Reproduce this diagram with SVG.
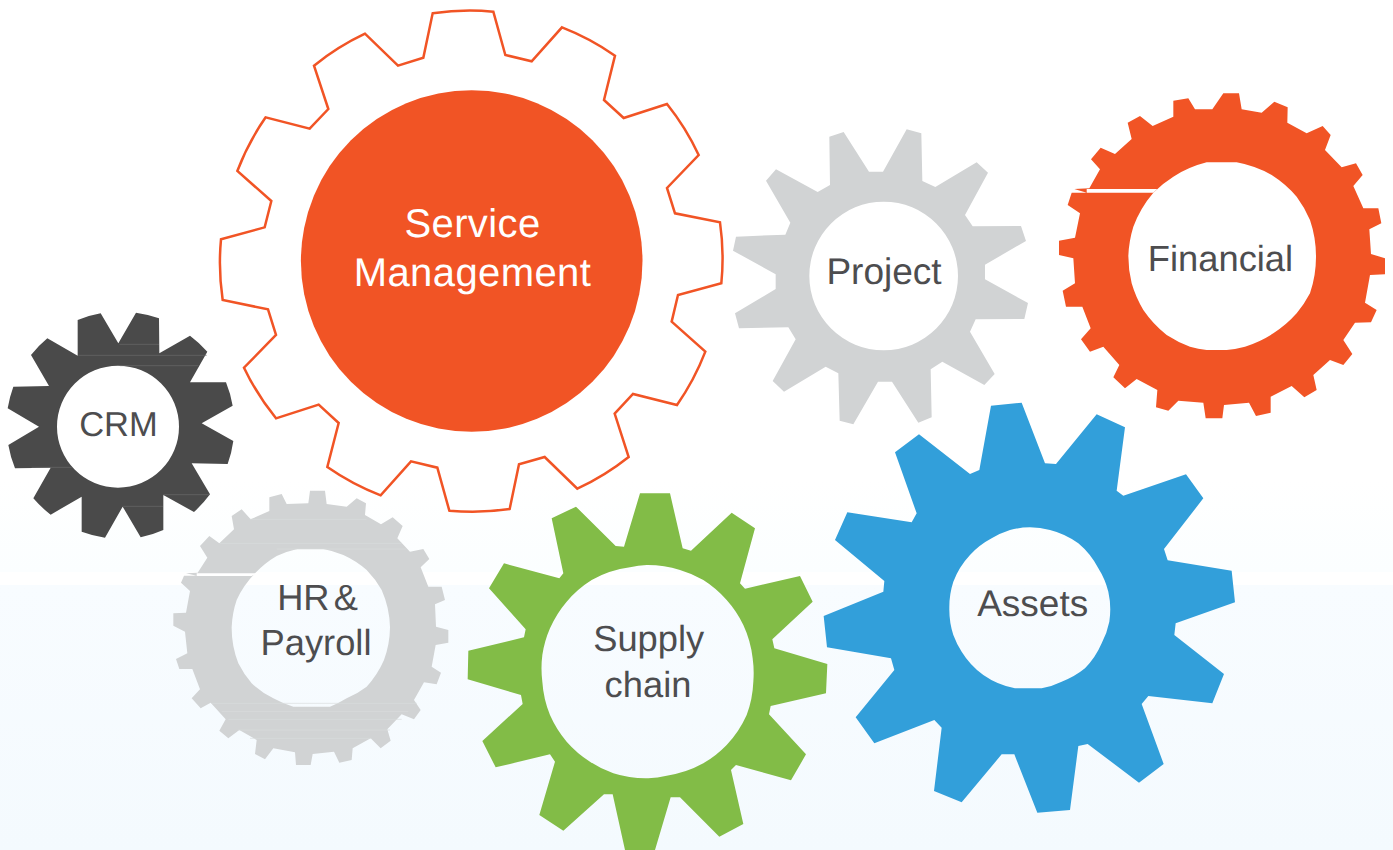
<svg xmlns="http://www.w3.org/2000/svg" width="1393" height="850" viewBox="0 0 1393 850">
<style>
text{text-rendering:geometricPrecision}
.t{font-family:"Liberation Sans",Arial,sans-serif;text-anchor:middle;fill:#4d4d4f;font-size:36.3px}
.w{fill:#fff;font-size:40px;letter-spacing:.4px}
.o{fill:#f15425}.g{fill:#d1d3d4}.d{fill:#4a4a4a}.v{fill:#82bc47}.b{fill:#329fda}
.slit{fill:#fff}
.crm{stroke:#6a6a6a;stroke-width:2;fill:none}
.hr{stroke:#dadcdd;stroke-width:2;fill:none}
</style>
<defs>
<linearGradient id="top" x1="0" y1="0" x2="0" y2="1"><stop offset="0" stop-color="#fff"/><stop offset="1" stop-color="#fbfeff"/></linearGradient>
<linearGradient id="bot" x1="0" y1="0" x2="0" y2="1"><stop offset="0" stop-color="#f8fcff"/><stop offset="1" stop-color="#f4fafe"/></linearGradient>
</defs>
<rect width="1393" height="850" fill="#fff"/>
<rect y="480" width="1393" height="92" fill="url(#top)"/>
<rect y="585" width="1393" height="265" fill="url(#bot)"/>

<g id="service-management">
<path transform="translate(210 0) scale(.33333)" fill="#fff" stroke="#f15425" stroke-width="7.5" stroke-linejoin="miter" d="M668,40A755,755 0 0 1 850,35L886,165 965,184 1056,82A755,755 0 0 1 1215,167L1182,300 1241,354 1371,312A755,755 0 0 1 1466,465L1371,564 1395,640 1530,667A755,755 0 0 1 1534,850L1404,885 1385,965 1486,1055A755,755 0 0 1 1401,1215L1269,1182 1214,1241 1256,1371A755,755 0 0 1 1102,1466L1004,1371 927,1393 899,1527A755,755 0 0 1 718,1532L682,1403 603,1384 512,1486A755,755 0 0 1 352,1401L386,1269 326,1214 198,1255A755,755 0 0 1 102,1103L198,1005 174,928 38,900A755,755 0 0 1 33,718L164,682 184,603 82,513A755,755 0 0 1 167,352L299,386 355,327 312,197A755,755 0 0 1 465,101L564,197 640,173Z"/>
<circle class="o" cx="471.7" cy="261" r="170.8"/>
<text class="t w" x="472.5" y="236.5">Service</text>
<text class="t w" x="472.5" y="285.5">Management</text>
</g>

<g id="project">
<path class="g" fill-rule="evenodd" transform="translate(725 120) scale(.33333)" d="M313,50 356,36 432,155 474,155 545,28 589,40 592,183 631,201 755,127 789,158 720,285 743,319 888,318 903,363 780,434 780,478 909,549 898,597 752,598 735,635 809,762 778,795 652,725 617,748 620,892 580,908 501,785 459,785 385,913 344,902 340,760 302,740 177,815 143,783 212,658 190,622 42,625 30,580 152,507 152,463 24,392 33,350 181,344 196,308 123,182 153,148 278,216 315,195Z M253,468a223,223 0 1,0 446,0a223,223 0 1,0 -446,0Z"/>
<text class="t" x="884" y="283.8" style="font-size:37px">Project</text>
</g>

<g id="financial">
<path class="o" fill-rule="evenodd" transform="translate(1040 80) scale(.33333)" d="M550,40 597,40 605,88 665,98 703,65 743,82 742,128 800,160 848,138 872,165 855,210 905,262 948,250 968,285 940,318 970,385 1015,385 1024,430 988,448 993,522 1035,535 1035,583 990,585 975,668 1010,690 993,727 945,728 910,780 937,822 910,855 870,840 820,885 830,930 793,952 755,918 692,950 692,998 648,1008 627,968 552,975 547,1015 497,1015 490,968 415,962 385,992 348,982 352,930 290,897 255,925 220,892 238,855 190,800 150,815 123,778 152,745 127,680 78,680 68,632 105,610 100,535 57,525 57,482 105,473 120,400 83,375 95,338 140,338 103,327 148,325 180,268 153,238 182,203 225,222 275,177 263,128 300,108 338,138 400,110 400,62 445,55 465,88 517,88Z M500,247H590A340,340 0 0 1 695,285A340,340 0 0 1 770,350A340,340 0 0 1 810,420A340,340 0 0 1 828,528A340,340 0 0 1 810,640A340,340 0 0 1 770,700A340,340 0 0 1 700,760A340,340 0 0 1 615,800A340,340 0 0 1 560,810H500A340,340 0 0 1 450,800A340,340 0 0 1 380,765A340,340 0 0 1 310,690A340,340 0 0 1 275,610A340,340 0 0 1 265,528A340,340 0 0 1 280,440A340,340 0 0 1 340,338A340,340 0 0 1 400,290A340,340 0 0 1 500,247Z"/>
<polygon class="slit" transform="translate(1040 80) scale(.33333)" points="140,327 352,327 340,338 140,338"/>
<text class="t" x="1220.5" y="271">Financial</text>
</g>

<g id="crm">
<path class="d" fill-rule="evenodd" transform="translate(0 300) scale(.33333)" d="M233,60A340,340 0 0 1 302,40L355,130 408,38A340,340 0 0 1 477,55L478,160 570,107A340,340 0 0 1 622,155L570,247 678,247A340,340 0 0 1 698,317L605,370 700,423A340,340 0 0 1 683,492L575,490 630,583A340,340 0 0 1 582,636L490,585 490,690A340,340 0 0 1 422,712L368,620 315,713A340,340 0 0 1 245,695L245,590 152,644A340,340 0 0 1 100,595L152,503 45,505A340,340 0 0 1 25,435L117,380 23,325A340,340 0 0 1 40,260L147,258 93,165A340,340 0 0 1 142,115L233,167Z M171,380a183,183 0 1,0 366,0a183,183 0 1,0 -366,0Z"/>
<path class="crm" transform="translate(0 300) scale(.33333)" d="M358,133H477M235,166H620M360,197H595M95,502H215M490,584H628M368,619H489"/>
<text class="t" x="118.5" y="435.5" style="font-size:34.5px">CRM</text>
</g>

<g id="hr-payroll">
<path class="g" fill-rule="evenodd" transform="translate(160 480) scale(.33333)" d="M450,32 495,32 500,72 560,80 590,55 618,70 615,105 663,133 698,112 728,138 712,175 750,215 790,207 808,237 782,262 805,320 845,320 855,360 825,373 828,440 865,450 865,488 827,495 815,560 843,578 830,613 792,607 762,660 782,690 762,718 725,703 682,748 692,782 662,805 632,775 578,805 575,840 538,848 522,815 458,822 452,855 408,855 405,817 340,805 315,838 285,822 290,780 238,750 205,775 178,752 197,718 152,668 122,685 95,655 120,628 97,567 58,567 48,537 82,520 75,455 40,437 40,400 78,398 90,333 63,308 72,287 110,287 78,280 113,278 142,233 120,198 148,168 178,190 222,148 215,108 245,88 272,118 328,93 328,52 365,42 380,72 445,70Z M412,207H490A290,290 0 0 1 550,225A290,290 0 0 1 620,270A290,290 0 0 1 665,330A290,290 0 0 1 690,442A290,290 0 0 1 672,540A290,290 0 0 1 620,620A290,290 0 0 1 560,655A290,290 0 0 1 510,680H400A290,290 0 0 1 340,655A290,290 0 0 1 275,610A290,290 0 0 1 235,550A290,290 0 0 1 215,442A290,290 0 0 1 230,360A290,290 0 0 1 285,280A290,290 0 0 1 350,228A290,290 0 0 1 412,207Z"/>
<polygon class="slit" transform="translate(160 480) scale(.33333)" points="110,280 290,280 275,288 110,288"/>
<path class="hr" transform="translate(160 480) scale(.33333)" d="M270,118H620M180,190H725M350,207H740M155,670H770M185,695H745M205,718H725M235,750H690M270,775H635"/>
<text class="t" x="317.5" y="609.8" style="word-spacing:-6px">HR &amp;</text>
<text class="t" x="316" y="654.8">Payroll</text>
</g>

<g id="supply-chain">
<path class="v" fill-rule="evenodd" transform="translate(460 485) scale(.33333)" d="M540,25 630,25 668,190 693,197 815,83 885,130 840,295 855,311 1020,273 1058,350 937,463 943,490 1102,537 1098,625 932,663 927,688 1038,808 993,886 828,840 813,855 850,1017 778,1055 660,937 632,937 585,1095 495,1095 458,928 432,928 310,1037 238,990 285,830 270,808 107,847 67,768 188,657 183,630 23,583 25,497 192,457 197,433 87,310 132,235 298,280 310,265 275,100 348,65 467,183 492,185Z M560,240A320,320 0 0 1 660,255A320,320 0 0 1 730,285A320,320 0 0 1 800,345A320,320 0 0 1 850,420A320,320 0 0 1 878,520A320,320 0 0 1 880,590A320,320 0 0 1 860,690A320,320 0 0 1 800,780A320,320 0 0 1 730,835A320,320 0 0 1 620,872A320,320 0 0 1 565,880A320,320 0 0 1 460,865A320,320 0 0 1 390,830A320,320 0 0 1 320,770A320,320 0 0 1 270,690A320,320 0 0 1 247,590A320,320 0 0 1 247,510A320,320 0 0 1 270,430A320,320 0 0 1 320,350A320,320 0 0 1 395,285A320,320 0 0 1 510,247A320,320 0 0 1 560,240Z"/>
<text class="t" x="648.7" y="651">Supply</text>
<text class="t" x="648" y="697">chain</text>
</g>

<g id="assets">
<path class="b" fill-rule="evenodd" transform="translate(815 395) scale(.33333)" d="M528,32 620,23 690,205 723,207 845,58 930,97 905,287 925,302 1113,238 1165,310 1047,462 1058,496 1250,527 1260,622 1082,685 1078,720 1227,837 1192,925 1000,903 980,927 1046,1107 972,1163 818,1047 790,1053 765,1245 667,1253 598,1078 560,1078 440,1222 357,1188 380,998 358,975 178,1045 122,967 238,825 228,790 36,757 26,663 205,590 208,558 60,435 97,352 290,382 305,355 240,172 312,118 465,237 493,225Z M585,405A245,245 0 0 1 645,397A245,245 0 0 1 705,405A245,245 0 0 1 790,445A245,245 0 0 1 850,520A245,245 0 0 1 880,590A245,245 0 0 1 883,680A245,245 0 0 1 860,745A245,245 0 0 1 810,820A245,245 0 0 1 740,860A245,245 0 0 1 680,880H600A245,245 0 0 1 505,840A245,245 0 0 1 440,770A245,245 0 0 1 415,720A245,245 0 0 1 403,640A245,245 0 0 1 415,560A245,245 0 0 1 465,480A245,245 0 0 1 530,430A245,245 0 0 1 585,405Z"/>
<text class="t" x="1032.7" y="615.5" style="font-size:37px">Assets</text>
</g>
</svg>
